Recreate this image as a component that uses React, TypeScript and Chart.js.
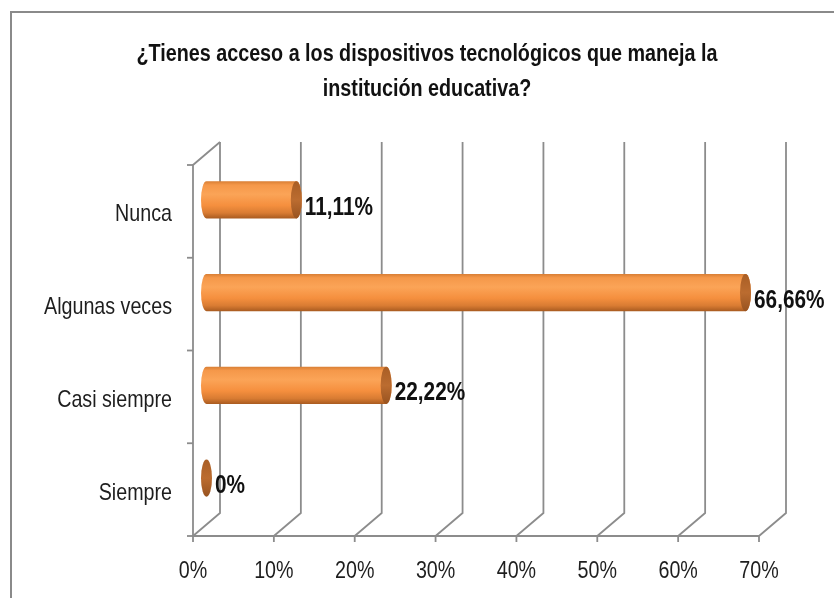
import React, { useEffect, useRef } from 'react';
import { Chart, registerables } from 'chart.js';

Chart.register(...registerables);

const TITLE_LINES = [
  '¿Tienes acceso a los dispositivos tecnológicos que maneja la',
  'institución educativa?',
];
const CATEGORIES = ['Nunca', 'Algunas veces', 'Casi siempre', 'Siempre'];
const VALUES = [11.11, 66.66, 22.22, 0];
const VALUE_LABELS = ['11,11%', '66,66%', '22,22%', '0%'];
const X_TICKS = [0, 10, 20, 30, 40, 50, 60, 70];

const FONT = "'Liberation Sans', Arial, sans-serif";
const GRID = '#8c8c8c';
const DX = 27;
const DY = -23;
const TEXT_SX = 0.82;
const VALUE_SX = 0.8;
const TITLE_WIDTH = 581;

function squashText(ctx: any, text: string, x: number, y: number, sx: number, align: string) {
  ctx.save();
  ctx.translate(x, y);
  ctx.scale(sx, 1);
  ctx.textAlign = align;
  ctx.textBaseline = 'alphabetic';
  ctx.fillText(text, 0, 0);
  ctx.restore();
}

const threeD = {
  id: 'threeD',
  beforeDatasetsDraw(chart: any) {
    const { ctx, chartArea } = chart;
    const xs = chart.scales.x;
    const ys = chart.scales.y;
    const { top, bottom } = chartArea;
    ctx.save();
    ctx.fillStyle = '#fff';
    ctx.fillRect(0, 0, chart.width, chart.height);
    ctx.strokeStyle = '#8a8a8a';
    ctx.lineWidth = 2;
    ctx.strokeRect(11, 12, 900, 700);

    ctx.strokeStyle = GRID;
    ctx.lineWidth = 1.8;
    X_TICKS.forEach((v) => {
      const x = xs.getPixelForValue(v);
      ctx.beginPath();
      ctx.moveTo(x, bottom);
      ctx.lineTo(x + DX, bottom + DY);
      ctx.lineTo(x + DX, top + DY);
      ctx.stroke();
      ctx.beginPath();
      ctx.moveTo(x, bottom);
      ctx.lineTo(x, bottom + 6);
      ctx.stroke();
    });
    const x0 = xs.getPixelForValue(X_TICKS[0]);
    const xN = xs.getPixelForValue(X_TICKS[X_TICKS.length - 1]);
    ctx.beginPath();
    ctx.moveTo(x0 + DX, top + DY);
    ctx.lineTo(x0, top);
    ctx.lineTo(x0, bottom);
    ctx.lineTo(xN, bottom);
    ctx.stroke();
    const bounds: number[] = [top];
    for (let i = 0; i < CATEGORIES.length - 1; i++) {
      bounds.push((ys.getPixelForValue(i) + ys.getPixelForValue(i + 1)) / 2);
    }
    bounds.push(bottom);
    bounds.forEach((y) => {
      ctx.beginPath();
      ctx.moveTo(x0 - 6, y);
      ctx.lineTo(x0, y);
      ctx.stroke();
    });

    ctx.fillStyle = '#1e1e1e';
    ctx.font = `24px ${FONT}`;
    X_TICKS.forEach((v) => {
      squashText(ctx, `${v}%`, xs.getPixelForValue(v), bottom + 42, TEXT_SX, 'center');
    });
    CATEGORIES.forEach((c, i) => {
      squashText(ctx, c, x0 - 21, ys.getPixelForValue(i) + 10, TEXT_SX, 'right');
    });

    ctx.fillStyle = '#111';
    ctx.font = `bold 23px ${FONT}`;
    const tsx = TITLE_WIDTH / ctx.measureText(TITLE_LINES[0]).width;
    squashText(ctx, TITLE_LINES[0], 427, 61, tsx, 'center');
    squashText(ctx, TITLE_LINES[1], 427, 96, tsx, 'center');
    ctx.restore();
  },
  afterDatasetsDraw(chart: any) {
    const { ctx } = chart;
    const meta = chart.getDatasetMeta(0);
    ctx.save();
    meta.data.forEach((bar: any, i: number) => {
      const p = bar.getProps(['x', 'y', 'base', 'height'], true);
      const cx0 = p.base + DX / 2;
      const cx1 = p.x + DX / 2;
      const cy = p.y + DY / 2;
      const r = p.height / 2;
      const rx = 5.5;
      if (cx1 - cx0 > 0.5) {
        const g = ctx.createLinearGradient(0, cy - r, 0, cy + r);
        g.addColorStop(0, '#d97f35');
        g.addColorStop(0.1, '#f5984a');
        g.addColorStop(0.35, '#fba457');
        g.addColorStop(0.65, '#f58f3e');
        g.addColorStop(0.85, '#d97c33');
        g.addColorStop(1, '#a95b20');
        ctx.beginPath();
        ctx.moveTo(cx0, cy - r);
        ctx.lineTo(cx1, cy - r);
        ctx.ellipse(cx1, cy, rx, r, 0, -Math.PI / 2, Math.PI / 2, false);
        ctx.lineTo(cx0, cy + r);
        ctx.ellipse(cx0, cy, rx, r, 0, Math.PI / 2, Math.PI * 1.5, false);
        ctx.closePath();
        ctx.fillStyle = g;
        ctx.fill();
      }
      const cg = ctx.createLinearGradient(0, cy - r, 0, cy + r);
      cg.addColorStop(0, '#a95e25');
      cg.addColorStop(0.5, '#bb6c30');
      cg.addColorStop(1, '#985320');
      ctx.beginPath();
      ctx.ellipse(cx1, cy, rx, r, 0, 0, Math.PI * 2);
      ctx.fillStyle = cg;
      ctx.fill();

      ctx.fillStyle = '#111';
      ctx.font = `bold 26px ${FONT}`;
      squashText(ctx, VALUE_LABELS[i], cx1 + rx + 3, cy + 15, VALUE_SX, 'left');
    });
    ctx.restore();
  },
};

export default function App() {
  const ref = useRef<HTMLCanvasElement | null>(null);
  useEffect(() => {
    if (!ref.current) return;
    const chart = new Chart(ref.current, {
      type: 'bar',
      data: {
        labels: CATEGORIES,
        datasets: [
          {
            data: VALUES,
            backgroundColor: 'rgba(0,0,0,0)',
            borderWidth: 0,
            barPercentage: 0.4,
            categoryPercentage: 1,
          },
        ],
      },
      options: {
        indexAxis: 'y',
        animation: false,
        responsive: false,
        devicePixelRatio: 1,
        layout: { padding: { top: 165, right: 75, left: 0, bottom: 0 } },
        plugins: { legend: { display: false }, title: { display: false }, tooltip: { enabled: false } },
        scales: {
          x: {
            type: 'linear',
            min: 0,
            max: 70,
            grid: { display: false, drawTicks: false },
            border: { display: false },
            ticks: { stepSize: 10, display: false },
            afterFit: (s: any) => {
              s.height = 62;
            },
          },
          y: {
            type: 'category',
            grid: { display: false, drawTicks: false },
            border: { display: false },
            ticks: { display: false },
            afterFit: (s: any) => {
              s.width = 193;
            },
          },
        },
      },
      plugins: [threeD],
    });
    return () => chart.destroy();
  }, []);
  return (
    <div style={{ position: 'absolute', left: 0, top: 0, width: 834, height: 598, background: '#fff' }}>
      <canvas ref={ref} width={834} height={598} />
    </div>
  );
}
